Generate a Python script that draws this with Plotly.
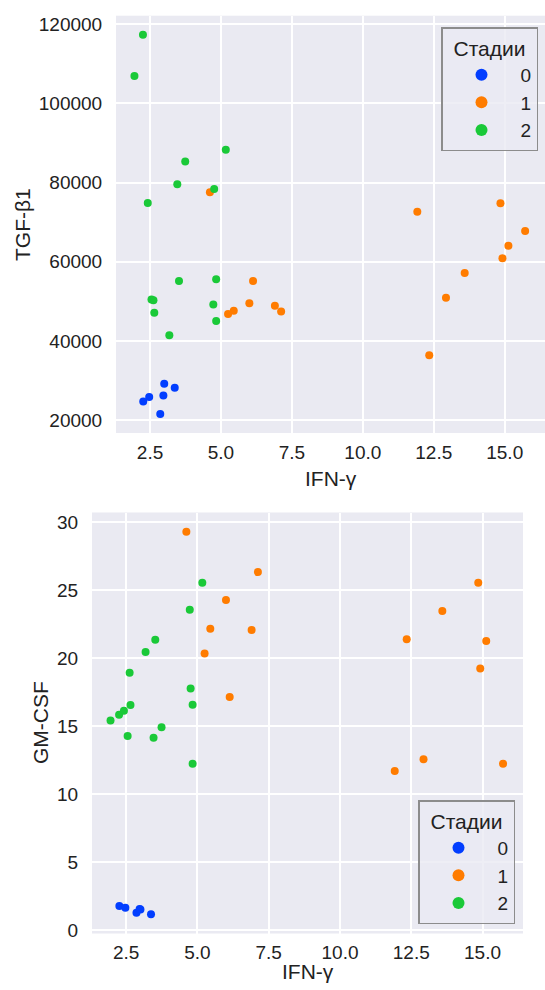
import plotly.graph_objects as go

# ---- data ----
stages = ["0", "1", "2"]
colors = ["#023eff", "#ff7c00", "#1ac938"]

ifn_0 = [2.26, 2.47, 2.86, 2.97, 3.00, 3.37]
tgf_0 = [24770, 25850, 21580, 26280, 29220, 28215]
gm_0 = [1.76, 1.64, 1.27, 1.54, 1.50, 1.15]

ifn_1 = [4.61, 6.13, 6.00, 6.90, 7.12, 5.45, 5.25, 11.92, 14.85, 15.72, 15.13, 14.92, 13.59, 12.93, 12.34]
tgf_1 = [77540, 55176, 49560, 48894, 47470, 47638, 46800, 72590, 74774, 67738, 64045, 60880, 57186, 50900, 36400]
gm_1 = [29.29, 17.13, 24.26, 22.06, 26.32, 22.16, 20.34, 11.69, 25.54, 12.23, 21.25, 19.22, 23.45, 12.55, 21.37]

ifn_2 = [2.25, 1.95, 5.17, 3.74, 3.46, 4.76, 2.42, 3.52, 4.83, 2.55, 2.62, 4.73, 2.65, 4.83, 3.18]
tgf_2 = [117300, 106900, 88270, 85327, 79548, 78370, 74850, 55176, 55603, 50477, 50300, 49221, 47135, 45050, 41430]
gm_2 = [15.83, 15.41, 25.54, 14.90, 14.14, 17.76, 16.13, 21.35, 16.57, 14.26, 18.92, 23.55, 16.54, 12.23, 20.44]

ifn = [ifn_0, ifn_1, ifn_2]
tgf = [tgf_0, tgf_1, tgf_2]
gm = [gm_0, gm_1, gm_2]

W, H = 545, 990
FONT = "Liberation Sans, Arial, sans-serif"
BG = "#eaeaf2"

fig = go.Figure()
for i, s in enumerate(stages):
    fig.add_trace(go.Scatter(
        x=ifn[i], y=tgf[i], mode="markers", name=s,
        marker=dict(color=colors[i], size=8, line=dict(width=0)),
        xaxis="x", yaxis="y", legend="legend", showlegend=True))
for i, s in enumerate(stages):
    fig.add_trace(go.Scatter(
        x=ifn[i], y=gm[i], mode="markers", name=s,
        marker=dict(color=colors[i], size=8, line=dict(width=0)),
        xaxis="x2", yaxis="y2", legend="legend2", showlegend=True))

def px_x(p):
    return p / W

def px_y(p):
    return 1 - p / H

grid = dict(showgrid=True, gridcolor="white", gridwidth=1.5, zeroline=False,
            showline=False, ticks="outside", tickcolor="rgba(0,0,0,0)",
            tickfont=dict(size=19, color="#222"), automargin=False)
xax = dict(ticklen=2, dtick=2.5, tick0=0, tickformat=".1f", range=[1.3, 16.42], **grid)
yax = dict(ticklen=9, tick0=0, tickformat="d", **grid)

legend_common = dict(bgcolor="rgba(234,234,242,0.8)", bordercolor="#8c8c8c", borderwidth=1.5,
                     title=dict(text="Стадии", font=dict(size=21), side="top center"),
                     font=dict(size=19), itemwidth=68, itemsizing="constant",
                     tracegroupgap=0)

fig.update_layout(
    width=W, height=H,
    margin=dict(l=0, r=0, t=0, b=0),
    paper_bgcolor="white",
    plot_bgcolor=BG,
    font=dict(family=FONT, color="#222"),
    xaxis=dict(domain=[px_x(116), 1.0], anchor="y", **xax),
    yaxis=dict(domain=[px_y(433), px_y(15.7)], anchor="x", range=[16794, 122086],
               dtick=20000, **yax),
    xaxis2=dict(domain=[px_x(92), px_x(523)], anchor="y2", **xax),
    yaxis2=dict(domain=[px_y(933.5), px_y(512.5)], anchor="x2", range=[-0.26, 30.7],
                dtick=5, **yax),
    legend=dict(x=px_x(538), xanchor="right", y=px_y(27), yanchor="top", **legend_common),
    legend2=dict(x=px_x(515), xanchor="right", y=px_y(924), yanchor="bottom", **legend_common),
)

ann_font = dict(size=21, color="#222", family=FONT)
fig.add_annotation(text="TGF-β1", x=px_x(22), y=px_y(225), xref="paper", yref="paper",
                   textangle=-90, showarrow=False, font=ann_font, xanchor="center", yanchor="middle")
fig.add_annotation(text="IFN-γ", x=px_x(330.5), y=px_y(478), xref="paper", yref="paper",
                   showarrow=False, font=ann_font, xanchor="center", yanchor="middle")
fig.add_annotation(text="GM-CSF", x=px_x(40), y=px_y(723), xref="paper", yref="paper",
                   textangle=-90, showarrow=False, font=ann_font, xanchor="center", yanchor="middle")
fig.add_annotation(text="IFN-γ", x=px_x(307.5), y=px_y(971), xref="paper", yref="paper",
                   showarrow=False, font=ann_font, xanchor="center", yanchor="middle")

fig.write_html("out.html")
